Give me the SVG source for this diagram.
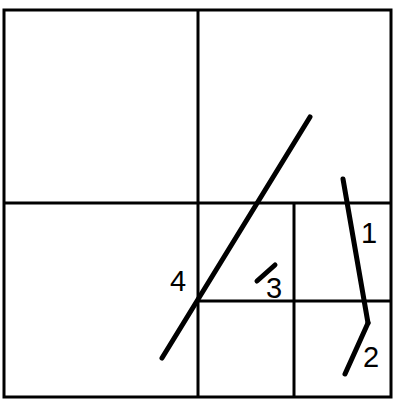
<svg xmlns="http://www.w3.org/2000/svg" width="395" height="399" viewBox="0 0 395 399">
<style>
.grid{fill:none;stroke:#000;stroke-width:3}
.seg{fill:none;stroke:#000;stroke-width:5;stroke-linecap:round;stroke-linejoin:round}
.lbl{font-family:"Liberation Sans",Arial,sans-serif;font-size:29px;fill:#000}
</style>
<rect width="395" height="399" fill="#fff"/>
<g id="grid">
<rect class="grid" x="4" y="10" width="387" height="387"/>
<line class="grid" x1="198" y1="10" x2="198" y2="397"/>
<line class="grid" x1="4" y1="203" x2="391" y2="203"/>
<line class="grid" x1="294" y1="203" x2="294" y2="397"/>
<line class="grid" x1="198" y1="301" x2="391" y2="301"/>
</g>
<g id="connectors">
<polyline id="seg1" class="seg" points="343,179 368,323"/>
<polyline id="seg2" class="seg" points="368,323 345,374"/>
<line id="seg3" class="seg" x1="275" y1="265" x2="257" y2="281"/>
<line id="seg4" class="seg" x1="310" y1="117" x2="162" y2="358"/>
</g>
<g id="label1"><text class="lbl" x="361" y="243">1</text></g>
<g id="label2"><text class="lbl" x="363" y="367">2</text></g>
<g id="label3"><text class="lbl" x="266" y="298">3</text></g>
<g id="label4"><text class="lbl" x="170" y="291">4</text></g>
</svg>
